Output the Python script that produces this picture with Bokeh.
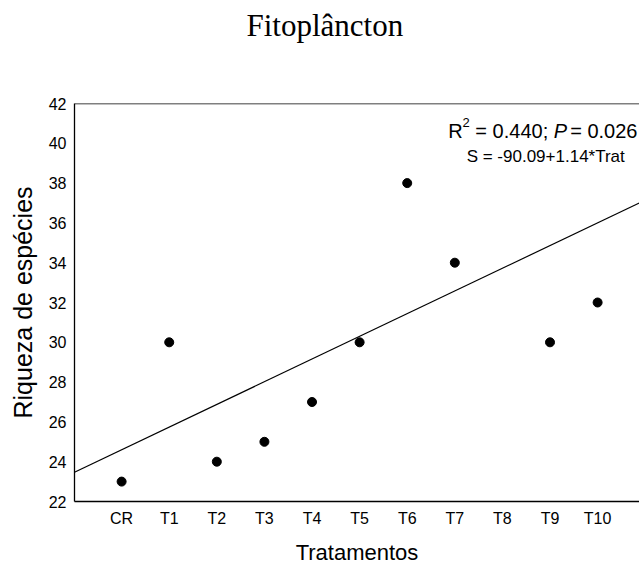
from bokeh.plotting import figure
from bokeh.models import FixedTicker, Span, Label, Range1d, Title
from bokeh.embed import file_html
from bokeh.resources import INLINE

# ---- data ----
categories = ["CR", "T1", "T2", "T3", "T4", "T5", "T6", "T7", "T8", "T9", "T10"]
cat_index = list(range(len(categories)))
point_cats = ["CR", "T1", "T2", "T3", "T4", "T5", "T6", "T7", "T9", "T10"]
richness = [23, 30, 24, 25, 27, 30, 38, 34, 30, 32]
y_ticks = [22, 24, 26, 28, 30, 32, 34, 36, 38, 40, 42]
reg_slope = 1.14        # per treatment step
reg_at_cr = 24.6        # fitted value at CR
title_text = "Fitoplâncton"
stats_parts = ["R", "2", "= 0.440;", "P", "= 0.026"]
equation_text = "S = -90.09+1.14*Trat"

x_lo, x_hi = -0.99, 10.88
y_lo, y_hi = 22, 42

p = figure(width=639, height=567, output_backend="svg", toolbar_location=None,
           x_range=Range1d(x_lo, x_hi), y_range=Range1d(y_lo, y_hi),
           min_border_left=74, min_border_right=0, min_border_top=103,
           min_border_bottom=64, title=None)
p.outline_line_color = None
p.xgrid.visible = False
p.ygrid.visible = False
p.background_fill_color = "white"
p.border_fill_color = "white"

SANS = "Liberation Sans"

# spacer between frame and title, then the title itself
p.add_layout(Title(text=" ", text_font_size="10px", standoff=46), "above")
p.add_layout(Title(text=title_text, align="left", offset=172, standoff=0,
                   vertical_align="top", text_font="Liberation Serif",
                   text_font_size="31px", text_font_style="normal",
                   text_color="black"), "above")

# axes
for ax in (p.xaxis[0], p.yaxis[0]):
    ax.major_tick_line_color = None
    ax.minor_tick_line_color = None
    ax.major_tick_out = 0
    ax.major_tick_in = 0
    ax.axis_line_color = "black"
    ax.axis_line_width = 1.3
    ax.major_label_text_font = SANS
    ax.major_label_text_font_size = "16px"
    ax.major_label_text_color = "black"
    ax.axis_label_text_font = SANS
    ax.axis_label_text_font_style = "normal"
    ax.axis_label_text_color = "black"

p.xaxis.ticker = FixedTicker(ticks=cat_index)
p.xaxis.major_label_overrides = {i: c for i, c in zip(cat_index, categories)}
p.xaxis.major_label_standoff = 8
p.xaxis.axis_label = "Tratamentos"
p.xaxis.axis_label_text_font_size = "22px"
p.xaxis.axis_label_standoff = 10

p.yaxis.ticker = FixedTicker(ticks=y_ticks)
p.yaxis.major_label_standoff = 8
p.yaxis.axis_label = "Riqueza de espécies"
p.yaxis.axis_label_text_font_size = "25px"
p.yaxis.axis_label_standoff = 9

# top frame line
p.add_layout(Span(location=y_hi, dimension="width", line_color="black", line_width=1.3))

# regression line
xs = [x_lo, x_hi]
ys = [reg_at_cr + reg_slope * x for x in xs]
p.line(xs, ys, line_color="black", line_width=1.2)

# points
px = [categories.index(c) for c in point_cats]
p.scatter(px, richness, size=9, color="black")

# stats text
sx, sy = 6.86, 40.62
offsets = [0, 14.4, 27.2, 105.6, 122.0]
sizes = ["20px", "13px", "20px", "20px", "20px"]
styles = ["normal", "normal", "normal", "italic", "normal"]
yoffs = [0, 8, 0, 0, 0]
for t, o, s, st, yo in zip(stats_parts, offsets, sizes, styles, yoffs):
    p.add_layout(Label(x=sx, y=sy, x_offset=o, y_offset=yo, text=t,
                       text_align="left", text_baseline="alphabetic",
                       text_font=SANS, text_font_size=s, text_font_style=st,
                       text_color="black"))

p.add_layout(Label(x=8.91, y=39.35, text=equation_text, text_align="center",
                   text_baseline="alphabetic", text_font=SANS,
                   text_font_size="17px", text_color="black"))

open("out.html", "w").write(file_html(p, INLINE))
